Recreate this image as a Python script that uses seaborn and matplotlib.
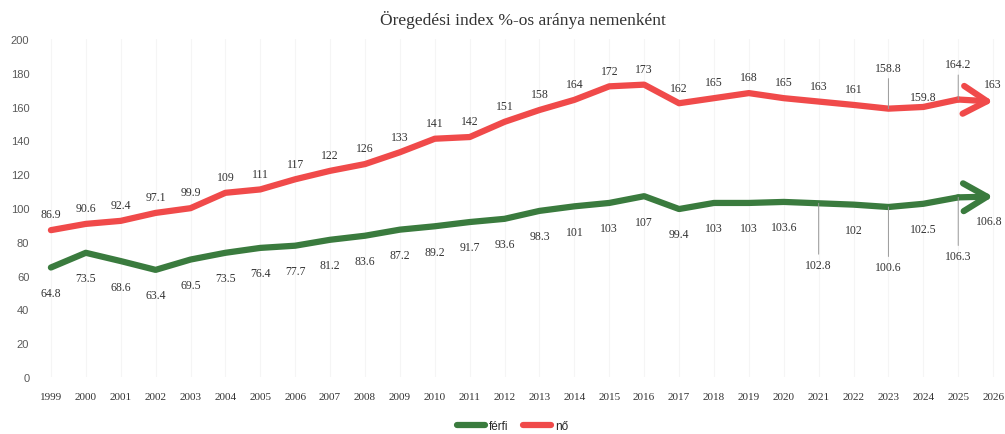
import numpy as np
import pandas as pd
import matplotlib
matplotlib.use('Agg')
import matplotlib.pyplot as plt
import seaborn as sns

# data
years = ['1999', '2000', '2001', '2002', '2003', '2004', '2005', '2006', '2007',
         '2008', '2009', '2010', '2011', '2012', '2013', '2014', '2015', '2016',
         '2017', '2018', '2019', '2020', '2021', '2022', '2023', '2024', '2025', '2026']

ferfi = [64.8, 73.5, 68.6, 63.4, 69.5, 73.5, 76.4, 77.7, 81.2, 83.6, 87.2, 89.2,
         91.7, 93.6, 98.3, 101, 103, 107, 99.4, 103, 103, 103.6, 102.8, 102,
         100.6, 102.5, 106.3, 106.8]

no = [86.9, 90.6, 92.4, 97.1, 99.9, 109, 111, 117, 122, 126, 133, 141, 142, 151,
      158, 164, 172, 173, 162, 165, 168, 165, 163, 161, 158.8, 159.8, 164.2, 163]

series_names = ['férfi', 'nő']
colors = {'férfi': '#3a7b3e', 'nő': '#f04a4a'}

# label placement tweaks (offset in points, leader line)
label_offsets = {
    ('nő', 24): (0, 25, True),
    ('nő', 25): (0, 3, False),
    ('nő', 26): (0, 21, True),
    ('nő', 27): (0, 8, False),
    ('férfi', 22): (0, -40, True),
    ('férfi', 24): (0, -39, True),
    ('férfi', 26): (0, -38, True),
    ('férfi', 27): (-3, -13, False),
}

def fmt(v):
    return ('%.1f' % v).rstrip('0').rstrip('.')


def main():
    x = np.arange(len(years))
    df = pd.DataFrame({
        'x': np.concatenate([x[:-1], x[:-1]]),
        'value': ferfi[:-1] + no[:-1],
        'nem': ['férfi'] * (len(years) - 1) + ['nő'] * (len(years) - 1),
    })

    sns.set_style('white')
    plt.rcParams['font.family'] = ['Liberation Serif', 'DejaVu Serif']

    fig = plt.figure(figsize=(10.05, 4.35), dpi=100)
    ax = fig.add_axes([0.0333, 0.131, 0.9667, 0.777])

    sns.lineplot(data=df, x='x', y='value', hue='nem', hue_order=series_names,
                 palette=colors, linewidth=4.5, ax=ax, legend=False)

    # arrow heads on the last segment
    for name, vals in [('férfi', ferfi), ('nő', no)]:
        ax.annotate('', xy=(x[-1], vals[-1]), xytext=(x[-2], vals[-2]),
                    arrowprops=dict(arrowstyle='->,head_length=1.7,head_width=1.0',
                                    lw=4.5, color=colors[name],
                                    shrinkA=0, shrinkB=0))

    # data labels
    for name, vals in [('férfi', ferfi), ('nő', no)]:
        for i, v in enumerate(vals):
            default = (0, 7, False) if name == 'nő' else (0, -14, False)
            dx, dy, leader = label_offsets.get((name, i), default)
            va = 'bottom' if dy > 0 else 'top'
            props = None
            if leader:
                props = dict(arrowstyle='-', color='#9a9a9a', lw=0.7,
                             shrinkA=1, shrinkB=0)
            ax.annotate(fmt(v), xy=(i, v), xytext=(dx, dy),
                        textcoords='offset points', ha='center', va=va,
                        fontsize=8.5, color='#333333', arrowprops=props)

    ax.set_xlim(-0.5, 27.34)
    ax.set_ylim(0, 200)
    ax.set_yticks(range(0, 201, 20))
    ax.set_xticks(x)
    ax.set_xticklabels(years)
    ax.tick_params(axis='x', length=0, pad=11, labelsize=8, labelcolor='#333333')
    ax.tick_params(axis='y', length=0, pad=3, labelsize=8, labelcolor='#595959')
    for lab in ax.get_yticklabels():
        lab.set_fontfamily('Liberation Sans')
    ax.set_xlabel('')
    ax.set_ylabel('')
    ax.grid(axis='x', color='#f5f5f5', linewidth=0.8)
    ax.grid(axis='y', visible=False)
    sns.despine(ax=ax, left=True, bottom=True)

    fig.suptitle('Öregedési index %-os aránya nemenként', x=0.52, y=0.975,
                 fontsize=12.5, color='#333333')

    handles = [plt.Line2D([0], [0], color=colors[n], lw=4.5) for n in series_names]
    fig.legend(handles, series_names, loc='center', bbox_to_anchor=(0.51, 0.018),
               ncol=2, frameon=False, handlelength=2.4,
               columnspacing=1.2, handletextpad=0.35,
               prop={'family': 'Liberation Sans', 'size': 8.5})

    fig.savefig('out.png', dpi=100)


if __name__ == '__main__':
    main()
